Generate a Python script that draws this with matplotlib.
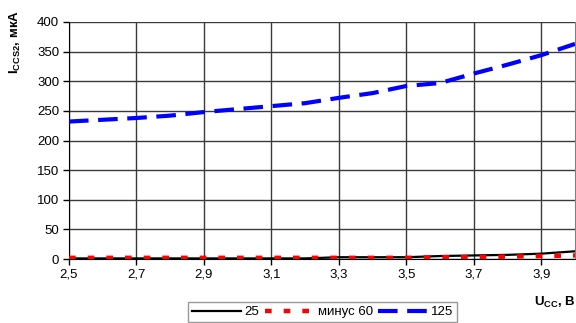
import matplotlib
matplotlib.use("Agg")
import matplotlib.pyplot as plt

plt.rcParams["font.family"] = ["Liberation Sans", "DejaVu Sans"]
plt.rcParams["mathtext.fontset"] = "custom"
plt.rcParams["mathtext.rm"] = "Liberation Sans:bold"
plt.rcParams["mathtext.bf"] = "Liberation Sans:bold"
plt.rcParams["mathtext.default"] = "bf"

# supply voltage, V
u_cc = [2.5, 2.6, 2.7, 2.8, 2.9, 3.0, 3.1, 3.2, 3.3, 3.4, 3.5, 3.6, 3.7, 3.8, 3.9, 4.0]
# current, uA, per temperature
i_25 = [1, 1, 1, 1, 1, 1, 1, 1, 3, 3, 3, 5, 6, 7, 9, 13]
i_m60 = [2, 2, 2, 2, 2, 2, 2, 2, 2, 2, 2, 3, 3, 4, 5, 6]
i_125 = [232, 235, 238, 242, 248, 253, 258, 263, 272, 280, 292, 297, 313, 328, 344, 363]

x_ticks = [2.5, 2.7, 2.9, 3.1, 3.3, 3.5, 3.7, 3.9]
y_ticks = [0, 50, 100, 150, 200, 250, 300, 350, 400]

fig = plt.figure(figsize=(5.76, 3.23), dpi=100)
ax = fig.add_axes([69 / 576, 1 - 259 / 323, (575 - 69) / 576, (259 - 22) / 323])

ax.plot(u_cc, i_25, color="black", lw=1.6, label="25", zorder=3)
ax.plot(u_cc, i_m60, color="#ff0000", lw=3.2, ls=(0, (1.5, 2.7)), label="минус 60", zorder=4)
ax.plot(u_cc, i_125, color="#0000ff", lw=3, ls=(0, (4.7, 2.3)), label="125", zorder=5)

ax.set_xlim(2.5, 4.0)
ax.set_ylim(0, 400)
ax.set_xticks(x_ticks)
ax.set_xticklabels([f"{v:.1f}".replace(".", ",") for v in x_ticks])
ax.set_yticks(y_ticks)
ax.grid(True, color="#3a3a3a", lw=1.0)
ax.tick_params(labelsize=9.5, length=4, color="black", width=1, pad=3)
ax.spines["left"].set_color("black")
ax.spines["bottom"].set_color("black")
ax.spines["top"].set_visible(False)
ax.spines["right"].set_color("#808080")

fig.text(0.963, 0.065, "U$_{CC}$, В", fontsize=9.5, fontweight="bold", ha="center", va="center")
fig.text(0.027, 0.87, "I$_{CCS2}$, мкА", fontsize=9.5, fontweight="bold", rotation=90,
         ha="center", va="center")

fig.legend(loc="upper left", bbox_to_anchor=(188 / 576, 1 - 302 / 323), ncol=3, fontsize=9.5,
           frameon=True, fancybox=False, edgecolor="#808080", handlelength=3.7,
           columnspacing=0.4, handletextpad=0.3, borderpad=0.3, borderaxespad=0)

fig.savefig("out.png", dpi=100)
